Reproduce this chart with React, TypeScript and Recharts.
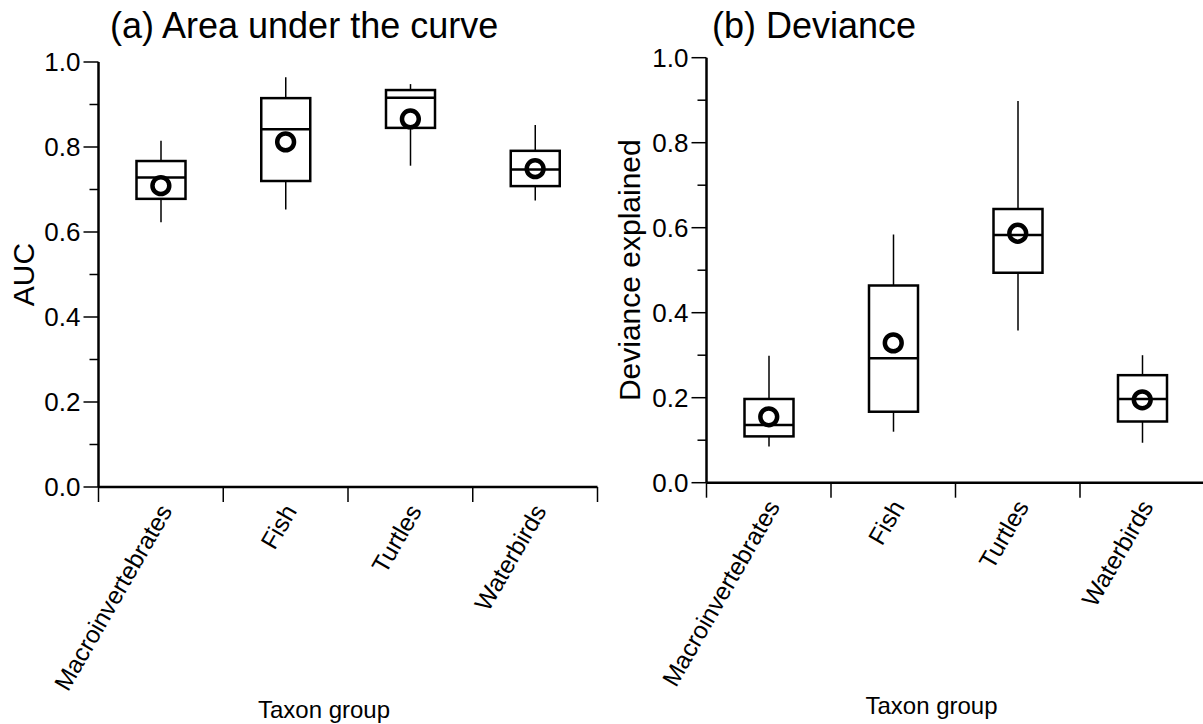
import React from 'react';
import { ComposedChart, Bar, Line, XAxis, YAxis, Label } from 'recharts';

// Taxon groups on the category axis
const TAXA = ['Macroinvertebrates', 'Fish', 'Turtles', 'Waterbirds'];

// (a) Area under the curve: five-number summaries and means
const AUC_MIN = [0.623, 0.653, 0.756, 0.674];
const AUC_Q1 = [0.678, 0.72, 0.845, 0.708];
const AUC_MEDIAN = [0.728, 0.842, 0.916, 0.747];
const AUC_Q3 = [0.767, 0.915, 0.934, 0.791];
const AUC_MAX = [0.815, 0.964, 0.948, 0.852];
const AUC_MEAN = [0.709, 0.812, 0.866, 0.749];

// (b) Deviance explained: five-number summaries and means
const DEV_MIN = [0.085, 0.12, 0.358, 0.094];
const DEV_Q1 = [0.109, 0.167, 0.494, 0.144];
const DEV_MEDIAN = [0.136, 0.293, 0.583, 0.197];
const DEV_Q3 = [0.197, 0.464, 0.644, 0.253];
const DEV_MAX = [0.299, 0.584, 0.898, 0.3];
const DEV_MEAN = [0.155, 0.329, 0.587, 0.195];

// y-axis ticks: labelled majors every 0.2, unlabelled minors in between
const Y_TICKS = [0, 0.1, 0.2, 0.3, 0.4, 0.5, 0.6, 0.7, 0.8, 0.9, 1.0];
const Y_MAJOR = [0, 0.2, 0.4, 0.6, 0.8, 1.0];

const FONT = '"Liberation Sans", Arial, Helvetica, sans-serif';

type Row = {
  taxon: string;
  min: number;
  q1: number;
  median: number;
  q3: number;
  max: number;
  mean: number;
};

const buildRows = (
  mins: number[],
  q1s: number[],
  medians: number[],
  q3s: number[],
  maxs: number[],
  means: number[]
): Row[] =>
  TAXA.map((taxon, i) => ({
    taxon,
    min: mins[i],
    q1: q1s[i],
    median: medians[i],
    q3: q3s[i],
    max: maxs[i],
    mean: means[i],
  }));

const AUC_ROWS = buildRows(AUC_MIN, AUC_Q1, AUC_MEDIAN, AUC_Q3, AUC_MAX, AUC_MEAN);
const DEV_ROWS = buildRows(DEV_MIN, DEV_Q1, DEV_MEDIAN, DEV_Q3, DEV_MAX, DEV_MEAN);

// The bar spans min..max; box, median and whiskers are placed on the same linear scale.
const BoxShape = (props: any) => {
  const { x, y, width, height, payload } = props;
  const top = Math.min(y, y + height);
  const h = Math.abs(height);
  const { min, q1, median, q3, max } = payload as Row;
  const toY = (v: number) => top + ((max - v) / (max - min)) * h;
  const cx = x + width / 2;
  return (
    <g>
      <line x1={cx} x2={cx} y1={toY(max)} y2={toY(q3)} stroke="#000" strokeWidth={1.5} />
      <line x1={cx} x2={cx} y1={toY(q1)} y2={toY(min)} stroke="#000" strokeWidth={1.5} />
      <rect
        x={x}
        y={toY(q3)}
        width={width}
        height={toY(q1) - toY(q3)}
        fill="none"
        stroke="#000"
        strokeWidth={2.5}
      />
      <line x1={x} x2={x + width} y1={toY(median)} y2={toY(median)} stroke="#000" strokeWidth={2.5} />
    </g>
  );
};

const MeanDot = (props: any) => {
  const { cx, cy, index } = props;
  if (cx == null || cy == null) return <g key={`m-${index}`} />;
  return <circle key={`m-${index}`} cx={cx} cy={cy} r={8.4} fill="none" stroke="#000" strokeWidth={4.5} />;
};

const YTick = (props: any) => {
  const { x, y, payload } = props;
  const v = payload.value as number;
  const major = Y_MAJOR.some((m) => Math.abs(m - v) < 1e-9);
  return (
    <g>
      <line x1={x - (major ? 15 : 9)} x2={x} y1={y} y2={y} stroke="#000" strokeWidth={1.5} />
      {major && (
        <text x={x - 18} y={y} dy="0.36em" textAnchor="end" fontSize={26} fontFamily={FONT} fill="#000">
          {v.toFixed(1)}
        </text>
      )}
    </g>
  );
};

const makeXTick = (band: number, count: number) => (props: any) => {
  const { x, y, payload, index } = props;
  const left = x - band / 2;
  const right = x + band / 2;
  return (
    <g>
      <line x1={left} x2={left} y1={y} y2={y + 15} stroke="#000" strokeWidth={1.5} />
      {index === count - 1 && <line x1={right} x2={right} y1={y} y2={y + 15} stroke="#000" strokeWidth={1.5} />}
      <text
        transform={`translate(${x + 12},${y + 24}) rotate(-60)`}
        textAnchor="end"
        fontSize={24.5}
        fontFamily={FONT}
        fill="#000"
      >
        {payload.value}
      </text>
    </g>
  );
};

type PanelProps = {
  rows: Row[];
  left: number;
  width: number;
  height: number;
  yAxisWidth: number;
  plotWidth: number;
  plotTop: number;
  plotHeight: number;
  yTitle: string;
  yTitleX: number;
  xTitleShift: number;
};

const Panel = ({
  rows,
  left,
  width,
  height,
  yAxisWidth,
  plotWidth,
  plotTop,
  plotHeight,
  yTitle,
  yTitleX,
  xTitleShift,
}: PanelProps) => {
  const band = plotWidth / TAXA.length;
  const xAxisHeight = height - plotTop - plotHeight;
  const rightMargin = width - yAxisWidth - plotWidth;
  return (
    <div style={{ position: 'absolute', left, top: 0, width, height }}>
      <ComposedChart
        width={width}
        height={height}
        data={rows}
        margin={{ top: plotTop, right: rightMargin, bottom: 0, left: 0 }}
      >
        <XAxis
          dataKey="taxon"
          type="category"
          height={xAxisHeight}
          interval={0}
          tickSize={0}
          tickMargin={0}
          tickLine={false}
          axisLine={{ stroke: '#000', strokeWidth: 2.5 }}
          tick={makeXTick(band, TAXA.length)}
        >
          <Label
            content={(p: any) => {
              const vb = p.viewBox;
              return (
                <text
                  x={vb.x + vb.width / 2 + xTitleShift}
                  y={vb.y + 231}
                  textAnchor="middle"
                  fontSize={24}
                  fontFamily={FONT}
                  fill="#000"
                >
                  Taxon group
                </text>
              );
            }}
          />
        </XAxis>
        <YAxis
          type="number"
          domain={[0, 1]}
          ticks={Y_TICKS}
          interval={0}
          width={yAxisWidth}
          tickSize={0}
          tickMargin={0}
          tickLine={false}
          axisLine={{ stroke: '#000', strokeWidth: 2.5 }}
          tick={YTick}
        >
          <Label
            content={(p: any) => {
              const vb = p.viewBox;
              const cx = vb.x + yTitleX;
              const cy = vb.y + vb.height / 2;
              return (
                <text
                  transform={`translate(${cx},${cy}) rotate(-90)`}
                  textAnchor="middle"
                  fontSize={30}
                  fontFamily={FONT}
                  fill="#000"
                >
                  {yTitle}
                </text>
              );
            }}
          />
        </YAxis>
        <Bar
          dataKey={(r: Row) => [r.min, r.max]}
          barSize={49}
          shape={BoxShape}
          isAnimationActive={false}
          legendType="none"
        />
        <Line
          dataKey="mean"
          stroke="none"
          dot={MeanDot}
          activeDot={false}
          isAnimationActive={false}
          legendType="none"
        />
      </ComposedChart>
    </div>
  );
};

export default function App() {
  return (
    <div
      style={{
        position: 'absolute',
        left: 0,
        top: 0,
        width: 1203,
        height: 724,
        overflow: 'hidden',
        background: '#fff',
      }}
    >
      <Panel
        rows={AUC_ROWS}
        left={0}
        width={600}
        height={724}
        yAxisWidth={98.5}
        plotWidth={499}
        plotTop={62}
        plotHeight={425}
        yTitle="AUC"
        yTitleX={33.5}
        xTitleShift={-24}
      />
      <Panel
        rows={DEV_ROWS}
        left={600}
        width={612}
        height={724}
        yAxisWidth={106.5}
        plotWidth={498}
        plotTop={57.7}
        plotHeight={425}
        yTitle="Deviance explained"
        yTitleX={40}
        xTitleShift={-24}
      />
      <svg
        width={1203}
        height={724}
        style={{ position: 'absolute', left: 0, top: 0, pointerEvents: 'none' }}
      >
        <text x={110} y={38} fontSize={36} fontFamily={FONT} fill="#000">
          (a) Area under the curve
        </text>
        <text x={712} y={38} fontSize={36} fontFamily={FONT} fill="#000">
          (b) Deviance
        </text>
      </svg>
    </div>
  );
}
